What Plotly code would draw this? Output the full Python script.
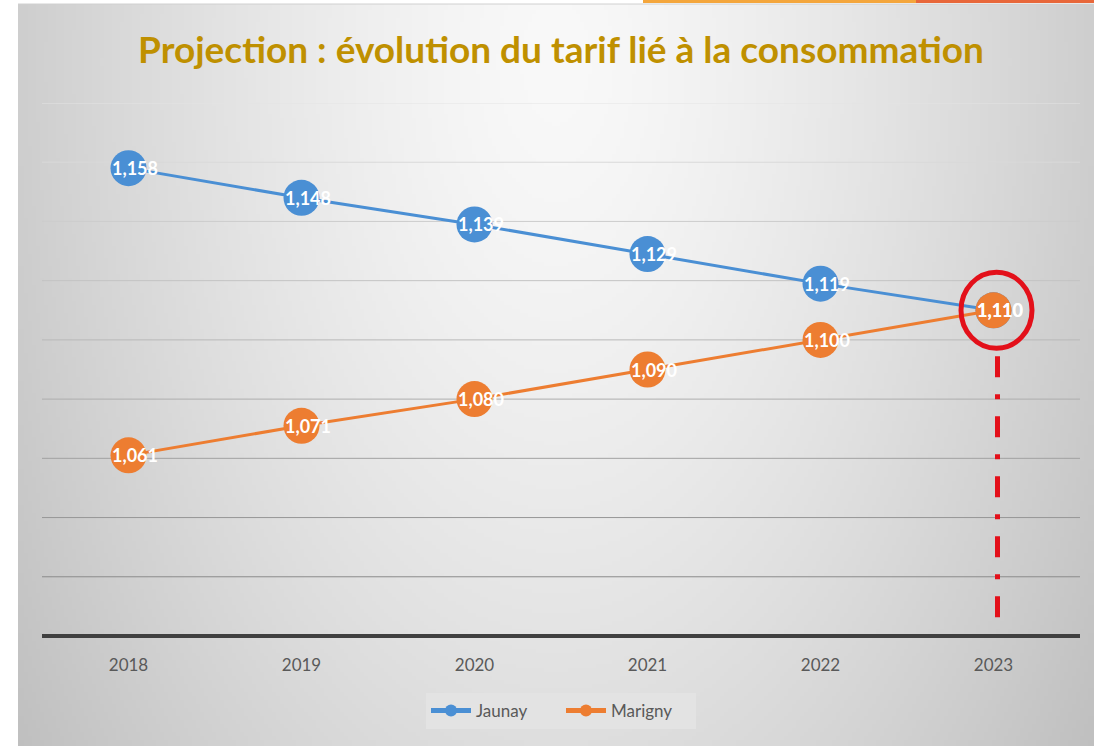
import base64
import struct
import zlib

import numpy as np
import plotly.graph_objects as go

# ---------------- data ----------------
years = [2018, 2019, 2020, 2021, 2022, 2023]
jaunay = [1.158, 1.148, 1.139, 1.129, 1.119, 1.110]
marigny = [1.061, 1.071, 1.080, 1.090, 1.100, 1.110]
jaunay_labels = ["1,158", "1,148", "1,139", "1,129", "1,119", "1,110"]
marigny_labels = ["1,061", "1,071", "1,080", "1,090", "1,100", "1,110"]
grid_values = [1.02, 1.04, 1.06, 1.08, 1.10, 1.12, 1.14, 1.16, 1.18]
title_text = "Projection : évolution du tarif lié à la consommation"

# ---------------- geometry ----------------
W, H = 1094, 746
ML, MR, MT, MB = 42, 14, 103, 110
PW, PH = W - ML - MR, H - MT - MB
Y_MIN, Y_MAX = 1.0, 1.18

BLUE = "#4a8fd4"
ORANGE = "#ed7d31"
RED = "#e3101a"
FONT = "Lato"


def px2x(px):
    return (px - ML) / PW


def px2y(py):
    return (H - MB - py) / PH


# ---------------- background gradient image ----------------
def make_png(arr):
    h, w, _ = arr.shape
    raw = b"".join(b"\x00" + arr[i].tobytes() for i in range(h))

    def chunk(t, d):
        return (struct.pack(">I", len(d)) + t + d
                + struct.pack(">I", zlib.crc32(t + d) & 0xFFFFFFFF))

    png = (b"\x89PNG\r\n\x1a\n"
           + chunk(b"IHDR", struct.pack(">IIBBBBB", w, h, 8, 2, 0, 0, 0))
           + chunk(b"IDAT", zlib.compress(raw, 9))
           + chunk(b"IEND", b""))
    return "data:image/png;base64," + base64.b64encode(png).decode()


PX0, PY0, PX1, PY1 = 18, 4, W, H
gw, gh = 269, 186
xs = np.linspace(PX0, PX1, gw)
ys = np.linspace(PY0, PY1, gh)
XX, YY = np.meshgrid(xs, ys)
r = np.sqrt(((XX - 556) / 620) ** 2 + ((YY - 60) / 1100) ** 2)
r = np.minimum(r, 1.2)
v = 249 - 52 * r ** 1.4
img = np.clip(np.stack([v, v, v], axis=-1), 0, 255).astype(np.uint8)
bg_uri = make_png(img)

fig = go.Figure()

fig.add_trace(go.Scatter(
    x=years, y=jaunay, name="Jaunay", mode="lines+markers",
    line=dict(color=BLUE, width=3),
    marker=dict(color=BLUE, size=36),
))
fig.add_trace(go.Scatter(
    x=years, y=marigny, name="Marigny", mode="lines+markers",
    line=dict(color=ORANGE, width=3),
    marker=dict(color=ORANGE, size=36),
))

# data labels
for xs_, ys_, labs in [(years, jaunay, jaunay_labels), (years, marigny, marigny_labels)]:
    for xv, yv, lab in zip(xs_, ys_, labs):
        fig.add_annotation(
            x=xv, y=yv, text=f"<b>{lab}</b>", showarrow=False, xshift=6,
            font=dict(family=FONT, size=18, color="white"),
        )

shapes = []
# gridlines (darker towards the bottom)
for gv in grid_values:
    t = (gv - grid_values[0]) / (grid_values[-1] - grid_values[0])
    c = int(140 + t * 88)
    shapes.append(dict(
        type="line", xref="paper", yref="y", x0=0, x1=1, y0=gv, y1=gv,
        line=dict(color=f"rgb({c},{c},{c})", width=1), layer="below",
    ))
# baseline
shapes.append(dict(
    type="line", xref="paper", yref="paper", x0=0, x1=1, y0=0, y1=0,
    line=dict(color="#404040", width=4), layer="above",
))
# highlight circle around the crossing point
shapes.append(dict(
    type="circle", xref="x", yref="y", xsizemode="pixel", ysizemode="pixel",
    xanchor=years[-1], yanchor=marigny[-1],
    x0=-35.5 + 3, x1=35.5 + 3, y0=-38, y1=38,
    line=dict(color=RED, width=5),
))
# dash-dot vertical line
shapes.append(dict(
    type="line", xref="x", yref="y", xsizemode="pixel", ysizemode="pixel",
    xanchor=years[-1], yanchor=marigny[-1],
    x0=4, x1=4, y0=-46, y1=-310,
    line=dict(color=RED, width=5, dash="21px,17px,5px,17px"),
))
# top decoration strip
shapes.append(dict(type="rect", xref="paper", yref="paper",
                   x0=px2x(643), x1=px2x(916), y0=px2y(3), y1=px2y(0),
                   line=dict(width=0), fillcolor="#f4a63c", layer="below"))
shapes.append(dict(type="rect", xref="paper", yref="paper",
                   x0=px2x(916), x1=px2x(1094), y0=px2y(3), y1=px2y(0),
                   line=dict(width=0), fillcolor="#e8673a", layer="below"))
shapes.append(dict(type="line", xref="paper", yref="paper",
                   x0=px2x(18), x1=px2x(1094), y0=px2y(4), y1=px2y(4),
                   line=dict(color="#d0d0d0", width=1), layer="below"))

fig.update_layout(
    width=W, height=H,
    margin=dict(l=ML, r=MR, t=MT, b=MB, pad=0),
    paper_bgcolor="white",
    plot_bgcolor="rgba(0,0,0,0)",
    shapes=shapes,
    images=[dict(
        source=bg_uri, xref="paper", yref="paper",
        x=px2x(PX0), y=px2y(PY0), sizex=(PX1 - PX0) / PW, sizey=(PY1 - PY0) / PH,
        xanchor="left", yanchor="top", sizing="stretch", layer="below",
    )],
    title=dict(
        text=f"<b>{title_text}</b>", xref="paper", x=0.5, xanchor="center",
        yref="container", y=1 - 50 / H, yanchor="middle",
        font=dict(family=FONT, size=37, color="#bf9000"),
    ),
    xaxis=dict(
        range=[years[0] - 0.5, years[-1] + 0.5], tickvals=years,
        ticktext=[str(y) for y in years],
        showgrid=False, zeroline=False, showline=False, ticks="",
        tickfont=dict(family=FONT, size=17, color="#595959"),
        ticklabelstandoff=17,
    ),
    yaxis=dict(
        range=[Y_MIN, Y_MAX], showgrid=False, zeroline=False,
        showticklabels=False, ticks="", showline=False,
    ),
    legend=dict(
        orientation="h", x=0.5, xanchor="center",
        y=px2y(711), yanchor="middle",
        bgcolor="#e3e3e3", itemsizing="constant",
        font=dict(family=FONT, size=17, color="#595959"),
        itemwidth=40, entrywidth=80,
    ),
    showlegend=True,
)

fig.write_html("out.html", post_script="document.body.style.margin='0';",
               config={"displayModeBar": False})
